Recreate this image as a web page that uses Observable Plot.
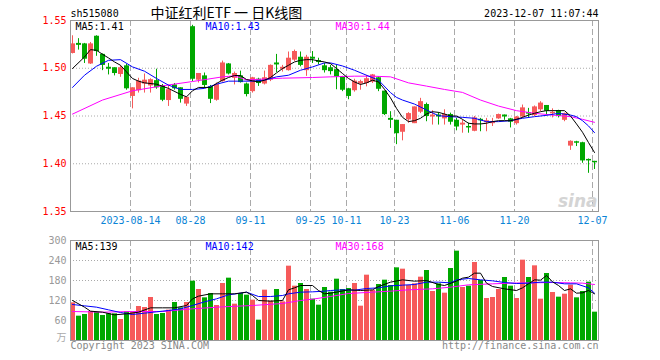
<!DOCTYPE html>
<html><head><meta charset="utf-8">
<script src="https://cdn.jsdelivr.net/npm/d3@7"></script>
<script src="https://cdn.jsdelivr.net/npm/@observablehq/plot@0.6"></script>
<style>
body{margin:0;background:#fff;}
#chart{position:relative;width:660px;height:360px;overflow:hidden;background:#fff;}
#chart svg{position:absolute;left:0;}
</style></head><body><div id="chart"></div>
<script>
// ---- data ----
const open  = [1.516,1.5255,1.525,1.505,1.533,1.514,1.5005,1.500,1.494,1.502,1.471,1.477,1.484,1.482,1.4865,1.481,1.4667,1.482,1.479,1.463,1.543,1.488,1.4915,1.480,1.467,1.4865,1.504,1.490,1.4915,1.483,1.476,1.488,1.484,1.488,1.505,1.4995,1.498,1.509,1.511,1.498,1.511,1.5075,1.502,1.500,1.498,1.4905,1.478,1.477,1.484,1.4845,1.486,1.4895,1.4755,1.447,1.445,1.4335,1.4465,1.4425,1.4545,1.4615,1.4495,1.4505,1.4475,1.451,1.445,1.441,1.4385,1.4345,1.446,1.4435,1.4425,1.4475,1.4505,1.4465,1.4425,1.4495,1.453,1.451,1.457,1.4605,1.4528,1.455,1.446,1.419,1.4225,1.4215,1.404,1.402];
const close = [1.525,1.5245,1.510,1.525,1.518,1.5035,1.4995,1.495,1.500,1.479,1.479,1.486,1.487,1.4875,1.480,1.467,1.477,1.479,1.468,1.469,1.489,1.494,1.4825,1.468,1.4825,1.505,1.4945,1.494,1.4855,1.473,1.4895,1.4845,1.4895,1.5025,1.504,1.5005,1.510,1.517,1.5035,1.511,1.510,1.5065,1.498,1.497,1.4915,1.4775,1.471,1.486,1.4855,1.4885,1.4925,1.4785,1.452,1.446,1.432,1.4405,1.452,1.459,1.4645,1.450,1.4505,1.4495,1.451,1.444,1.439,1.442,1.438,1.4475,1.4455,1.4445,1.4435,1.451,1.4495,1.444,1.4485,1.458,1.4525,1.459,1.463,1.4555,1.4533,1.450,1.452,1.423,1.422,1.4035,1.4035,1.4015];
const high  = [1.534,1.531,1.526,1.527,1.534,1.515,1.505,1.5005,1.5025,1.504,1.4795,1.4895,1.494,1.489,1.499,1.483,1.482,1.484,1.4795,1.470,1.545,1.4945,1.495,1.482,1.4845,1.5075,1.505,1.496,1.497,1.4845,1.4905,1.4895,1.497,1.5035,1.5145,1.503,1.517,1.519,1.517,1.5135,1.5175,1.5105,1.505,1.503,1.503,1.4915,1.479,1.4885,1.4875,1.4925,1.4935,1.491,1.476,1.4545,1.4455,1.441,1.4535,1.4595,1.4685,1.4635,1.4555,1.4535,1.4565,1.453,1.4475,1.446,1.4425,1.4495,1.4475,1.4475,1.4475,1.452,1.451,1.4475,1.4495,1.4615,1.458,1.4605,1.465,1.461,1.4575,1.456,1.453,1.424,1.4235,1.4225,1.405,1.4025];
const low   = [1.515,1.519,1.505,1.504,1.5125,1.4975,1.493,1.492,1.4905,1.477,1.4575,1.474,1.474,1.474,1.478,1.465,1.460,1.477,1.4635,1.460,1.486,1.4845,1.479,1.463,1.4655,1.4855,1.493,1.4825,1.4845,1.470,1.474,1.481,1.4825,1.486,1.4955,1.496,1.497,1.507,1.5015,1.4915,1.505,1.5035,1.495,1.493,1.4775,1.4755,1.467,1.475,1.477,1.4805,1.484,1.4755,1.4505,1.437,1.420,1.424,1.4425,1.442,1.4525,1.444,1.4405,1.4405,1.4405,1.4405,1.4345,1.432,1.432,1.4335,1.4335,1.4335,1.439,1.4465,1.4455,1.4375,1.4405,1.4475,1.4475,1.4495,1.4545,1.450,1.448,1.448,1.444,1.414,1.418,1.4005,1.390,1.394];
const volume = [113,73,78,87,84,75,80,80,63,86,86,102,99,129,78,81,91,114,98,114,178,153,128,141,105,171,187,109,141,136,121,61,151,118,153,116,223,163,171,153,124,106,159,145,184,153,156,171,103,196,150,168,181,165,218,214,165,170,190,210,147,170,142,216,268,159,163,234,180,126,129,153,189,163,126,241,189,224,124,201,144,130,139,166,128,147,175,85];

// moving-average lines at the listed candle indices
const ma5Idx  = [0,2,3,4,5,6,7,8,9,10,11,12,14,16,18,19,20,21,23,24,25,26,27,28,29,30,31,32,33,34,35,36,37,38,39,40,41,42,43,44,45,46,47,48,49,50,51,52,53,54,55,56,57,58,59,60,61,62,63,64,65,66,67,68,69,70,71,72,73,74,75,76,77,78,79,80,81,82,83,84,85,86,87];
const ma5Val  = [1.4997,1.5118,1.5195,1.5188,1.5146,1.5108,1.5066,1.5031,1.4962,1.4893,1.4865,1.4847,1.4833,1.4789,1.4726,1.4701,1.4764,1.4799,1.4799,1.4841,1.4875,1.4903,1.4924,1.4924,1.4882,1.4868,1.4857,1.4875,1.4903,1.4951,1.4997,1.5031,1.5066,1.5083,1.509,1.509,1.5076,1.5066,1.5049,1.4997,1.4945,1.4893,1.4857,1.483,1.4847,1.4875,1.4857,1.478,1.469,1.458,1.4486,1.4441,1.4451,1.4476,1.4521,1.4545,1.4538,1.4521,1.45,1.45,1.4465,1.4424,1.4417,1.4417,1.4424,1.4441,1.4451,1.4451,1.4451,1.4465,1.4486,1.451,1.4528,1.4545,1.4556,1.4556,1.4556,1.4556,1.45,1.4417,1.433,1.4222,1.4118];
const ma10Idx = [0,2,4,6,8,10,12,14,16,18,20,22,24,26,28,30,32,34,36,38,40,42,43,45,47,49,51,53,54,55,57,59,61,63,65,67,69,71,73,75,77,79,81,83,84,85,86,87];
const ma10Val = [1.4799,1.4927,1.5021,1.5083,1.509,1.5014,1.4969,1.4893,1.4823,1.4778,1.4778,1.4789,1.4833,1.4865,1.4865,1.4865,1.4875,1.491,1.4927,1.4979,1.5014,1.5056,1.5056,1.5024,1.4979,1.4927,1.4875,1.4745,1.4695,1.4667,1.4625,1.4563,1.4503,1.4493,1.4486,1.4476,1.4441,1.4441,1.4451,1.4476,1.4493,1.4507,1.4528,1.451,1.4493,1.4451,1.4396,1.4326];
const ma30Idx = [0,5,10,15,20,25,27,29,35,40,43,47,50,53,56,59,62,65,68,71,74,77,80,83,85,87];
const ma30Val = [1.452,1.4667,1.4764,1.4816,1.4861,1.491,1.492,1.4878,1.4896,1.4903,1.491,1.4917,1.4917,1.491,1.4847,1.4813,1.4778,1.4747,1.4667,1.4604,1.4556,1.4528,1.451,1.4493,1.4465,1.4434];

const vma5Idx  = [0,2,3,5,7,9,11,13,15,17,19,20,21,23,25,27,29,30,31,33,35,36,37,38,40,41,42,43,44,46,48,50,51,53,55,57,59,61,62,64,65,66,67,68,69,70,72,74,75,76,77,78,79,80,81,82,83,84,85,86,87];
const vma5Val  = [120,100,88,85,77,80,85,98,98,98,105,125,133,140,140,140,145,135,120,118,120,152,158,165,165,150,140,142,145,152,150,152,162,175,182,178,180,168,165,178,187,190,202,202,172,162,155,150,158,170,182,181,195,176,165,150,155,142,143,150,140];
const vma10Idx = [0,2,4,6,8,10,12,14,16,18,20,22,24,26,28,29,31,33,35,36,38,40,42,43,45,47,49,51,53,55,57,59,61,63,64,66,68,70,72,74,76,78,80,82,84,86,87];
const vma10Val = [108,104,100,92,84,78,82,86,90,95,105,116,125,137,142,145,132,132,135,140,145,146,148,150,152,151,156,158,164,166,168,175,175,173,182,186,182,179,174,171,172,175,175,170,170,158,142];
const vma30Idx = [0,5,10,15,20,25,30,35,38,40,43,46,50,53,56,60,63,66,70,73,76,80,83,85,87];
const vma30Val = [87,85,87,87,95,101,105,111,120,124,132,141,145,148,152,155,160,167,170,172,173,174,173,172,168];

const xTickIdx    = [10,20,30,40,46,54,64,74,87];
const xTickLabels = ["2023-08-14","08-28","09-11","09-25","10-11","10-23","11-06","11-20","12-07"];
const priceTicks  = [1.35,1.40,1.45,1.50,1.55];
const volTicks    = [60,120,180,240,300];
const volTickLabels = ["60","120","180","240","300"];

// ---- build tables ----
const RED = "#f65a5a", GREEN = "#00a800", BLUE_LBL = "#0b84d6";
const candles = open.map((o, i) => ({i, o, c: close[i], h: high[i], l: low[i], v: volume[i], up: close[i] >= o}));
const col = d => d.up ? RED : GREEN;
const pts = (idx, val) => idx.map((k, j) => ({i: k, v: val[j]}));
const mono = "DejaVu Sans Mono";
const FS = 10;
const C = 2 / 6; // wick offset inside a candle slot

const common = {
  width: 660, marginLeft: 70, marginRight: 62,
  style: {fontFamily: mono, fontSize: "10px", background: "transparent", overflow: "visible"},
  x: {domain: [0, 88], axis: null}
};

const main = Plot.plot({
  ...common,
  height: 230, marginTop: 20, marginBottom: 19,
  y: {domain: [1.35, 1.55], axis: null},
  marks: [
    Plot.ruleX(xTickIdx, {x: d => d, stroke: "#aaa", strokeDasharray: "6,3"}),
    Plot.ruleY([1.40, 1.45, 1.50], {y: d => d, stroke: "#aaa", strokeDasharray: "1,2"}),
    Plot.ruleX(candles, {x: d => d.i + C, y1: "l", y2: "h", stroke: col}),
    Plot.rect(candles, {x1: "i", x2: d => d.i + 5 / 6, y1: "o", y2: "c", fill: col, insetTop: -0.5, insetBottom: -0.5}),
    Plot.line(pts(ma30Idx, ma30Val), {x: d => d.i + C, y: "v", stroke: "#ff00ff", strokeWidth: 1}),
    Plot.line(pts(ma10Idx, ma10Val), {x: d => d.i + C, y: "v", stroke: "#0000ff", strokeWidth: 1}),
    Plot.line(pts(ma5Idx, ma5Val), {x: d => d.i + C, y: "v", stroke: "#000", strokeWidth: 1}),
    Plot.frame({stroke: "#999"}),
    Plot.text(priceTicks, {y: d => d, frameAnchor: "left", textAnchor: "end", dx: -4, text: d => d.toFixed(2), fill: "red", fontSize: FS}),
    Plot.text(xTickIdx, {x: d => d, frameAnchor: "bottom", lineAnchor: "top", dy: 5, text: (d, j) => xTickLabels[j], fill: BLUE_LBL, fontSize: FS}),
    Plot.text(["MA5:1.41"], {frameAnchor: "top-left", textAnchor: "start", lineAnchor: "top", dx: 5, dy: 2, fill: "#000", fontSize: FS}),
    Plot.text(["MA10:1.43"], {frameAnchor: "top-left", textAnchor: "start", lineAnchor: "top", dx: 135, dy: 2, fill: "#0000ff", fontSize: FS}),
    Plot.text(["MA30:1.44"], {frameAnchor: "top-left", textAnchor: "start", lineAnchor: "top", dx: 265, dy: 2, fill: "#ff00ff", fontSize: FS}),
    Plot.text(["sh515080"], {frameAnchor: "top-left", textAnchor: "start", lineAnchor: "bottom", dy: -4, fill: "#000", fontSize: FS}),
    Plot.text(["2023-12-07 11:07:44"], {frameAnchor: "top-right", textAnchor: "end", lineAnchor: "bottom", dy: -4, fill: "#000", fontSize: FS}),
    Plot.text(["中证红利ETF 一 日K线图"], {frameAnchor: "top-left", textAnchor: "start", lineAnchor: "bottom", dx: 80, dy: -3, fill: "#000", fontSize: 14, fontFamily: "Noto Sans CJK SC"}),
    Plot.text(["sina"], {frameAnchor: "bottom-right", textAnchor: "end", lineAnchor: "bottom", dx: -1, dy: -5, fill: "#d4d4d4", fontSize: 17, fontWeight: "bold", fontStyle: "italic", fontFamily: "DejaVu Sans"})
  ]
});
main.style.top = "0px";

const vol = Plot.plot({
  ...common,
  height: 130, marginTop: 10, marginBottom: 20,
  y: {domain: [0, 300], axis: null},
  marks: [
    Plot.ruleX(xTickIdx, {x: d => d, stroke: "#aaa", strokeDasharray: "6,3"}),
    Plot.ruleY([60, 120, 180, 240], {y: d => d, stroke: "#aaa", strokeDasharray: "1,2"}),
    Plot.rect(candles, {x1: "i", x2: d => d.i + 5 / 6, y1: 0, y2: "v", fill: col}),
    Plot.line(pts(vma30Idx, vma30Val), {x: d => d.i + C, y: "v", stroke: "#ff00ff", strokeWidth: 1}),
    Plot.line(pts(vma10Idx, vma10Val), {x: d => d.i + C, y: "v", stroke: "#0000ff", strokeWidth: 1}),
    Plot.line(pts(vma5Idx, vma5Val), {x: d => d.i + C, y: "v", stroke: "#000", strokeWidth: 1}),
    Plot.frame({stroke: "#999"}),
    Plot.text(volTicks, {y: d => d, frameAnchor: "left", textAnchor: "end", dx: -4, text: (d, j) => volTickLabels[j], fill: "#999", fontSize: FS}),
    Plot.text(["万"], {frameAnchor: "bottom-left", textAnchor: "end", dx: -4, fill: "#aaa", fontSize: FS, fontFamily: "Noto Sans CJK SC"}),
    Plot.text(["MA5:139"], {frameAnchor: "top-left", textAnchor: "start", lineAnchor: "top", dx: 5, dy: 2, fill: "#000", fontSize: FS}),
    Plot.text(["MA10:142"], {frameAnchor: "top-left", textAnchor: "start", lineAnchor: "top", dx: 135, dy: 2, fill: "#0000ff", fontSize: FS}),
    Plot.text(["MA30:168"], {frameAnchor: "top-left", textAnchor: "start", lineAnchor: "top", dx: 265, dy: 2, fill: "#ff00ff", fontSize: FS}),
    Plot.text(["Copyright 2023 SINA.COM"], {frameAnchor: "bottom-left", textAnchor: "start", lineAnchor: "top", dy: 1, fill: "#888", fontSize: FS}),
    Plot.text(["http://finance.sina.com.cn"], {frameAnchor: "bottom-right", textAnchor: "end", lineAnchor: "top", dy: 1, fill: "#888", fontSize: FS})
  ]
});
vol.style.top = "230px";

const root = document.getElementById("chart");
root.appendChild(main);
root.appendChild(vol);
</script></body></html>
